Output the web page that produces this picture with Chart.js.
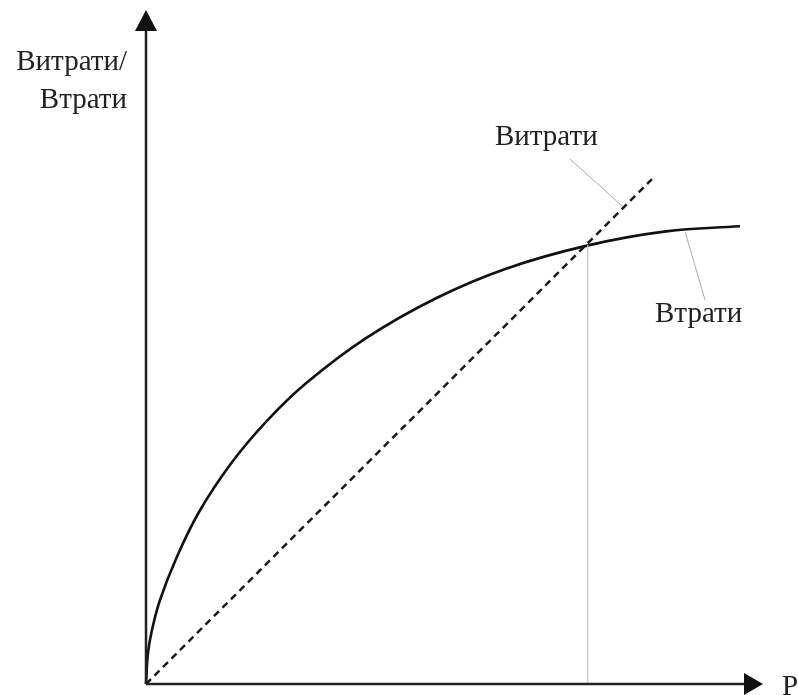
<!DOCTYPE html>
<html>
<head>
<meta charset="utf-8">
<script src="https://cdn.jsdelivr.net/npm/chart.js@4.4.1/dist/chart.umd.min.js"></script>
<style>
    html, body { margin: 0; padding: 0; background: #fff; }
    #wrap { width: 798px; height: 695px; position: relative; }
</style>
</head>
<body>
<div id="wrap"><canvas id="costChart"></canvas></div>
<script>
/* ===========================
Data
=========================== */

// Втрати (losses) curve
const lossX = [0, 0.032, 0.097, 0.227, 0.486, 0.859, 1.378, 1.945, 2.593, 3.566, 4.7, 5.835, 7.147, 8.428, 9.627];
const lossY = [0, 0.46, 0.801, 1.246, 1.855, 2.552, 3.272, 3.89, 4.461, 5.131, 5.723, 6.162, 6.504, 6.715, 6.792];

// Витрати (costs) straight line
const costX = [0, 8.2];
const costY = [0, 7.49];

// break-even point (vertical guide)
const markX = [7.16, 7.16];
const markY = [0, 6.52];

// label leader lines
const costLeadX = [6.87, 7.73];
const costLeadY = [7.79, 7.08];
const lossLeadX = [8.74, 9.06];
const lossLeadY = [6.7, 5.7];

const axisLabels = ["Витрати/", "Втрати", "P"];
const seriesLabels = ["Витрати", "Втрати"];

const toPoints = (xs, ys) => xs.map((x, i) => ({ x: x, y: ys[i] }));

/* ===========================
Axes + texts
=========================== */

const font = "29px 'Liberation Serif', 'Times New Roman', serif";

const decorPlugin = {
    id: "decor",
    afterDatasetsDraw(chart) {
        const ctx = chart.ctx;
        const xs = chart.scales.x;
        const ys = chart.scales.y;
        const x0 = xs.getPixelForValue(0);
        const y0 = ys.getPixelForValue(0);
        const xEnd = xs.getPixelForValue(10);
        const yEnd = ys.getPixelForValue(10);

        ctx.save();

        // axis lines
        ctx.strokeStyle = "#222";
        ctx.lineWidth = 2.5;
        ctx.beginPath();
        ctx.moveTo(x0, y0);
        ctx.lineTo(x0, yEnd + 18);
        ctx.moveTo(x0, y0);
        ctx.lineTo(xEnd - 16, y0);
        ctx.stroke();

        // arrow heads
        ctx.fillStyle = "#111";
        ctx.beginPath();
        ctx.moveTo(x0, yEnd);
        ctx.lineTo(x0 - 11, yEnd + 21);
        ctx.lineTo(x0 + 11, yEnd + 21);
        ctx.closePath();
        ctx.fill();
        ctx.beginPath();
        ctx.moveTo(xEnd, y0);
        ctx.lineTo(xEnd - 19, y0 - 11);
        ctx.lineTo(xEnd - 19, y0 + 11);
        ctx.closePath();
        ctx.fill();

        // texts
        ctx.fillStyle = "#222";
        ctx.font = font;
        ctx.textBaseline = "alphabetic";
        ctx.textAlign = "right";
        ctx.fillText(axisLabels[0], x0 - 19, 70);
        ctx.fillText(axisLabels[1], x0 - 19, 108);
        ctx.textAlign = "left";
        ctx.fillText(axisLabels[2], xEnd + 19, y0 + 11);

        ctx.fillText(seriesLabels[0], xs.getPixelForValue(5.656), ys.getPixelForValue(8.0));
        ctx.fillText(seriesLabels[1], xs.getPixelForValue(8.25), ys.getPixelForValue(5.37));

        ctx.restore();
    }
};

/* ===========================
Chart
=========================== */

const chartCtx = document.getElementById("costChart");

new Chart(chartCtx, {

    type: "scatter",

    data: {

        datasets: [

            {
                label: "guide",
                data: toPoints(markX, markY),
                showLine: true,
                borderColor: "#c4c4c4",
                borderWidth: 1.2,
                pointRadius: 0
            },

            {
                label: "lead1",
                data: toPoints(costLeadX, costLeadY),
                showLine: true,
                borderColor: "#aaa",
                borderWidth: 1,
                pointRadius: 0
            },

            {
                label: "lead2",
                data: toPoints(lossLeadX, lossLeadY),
                showLine: true,
                borderColor: "#aaa",
                borderWidth: 1,
                pointRadius: 0
            },

            {
                label: seriesLabels[0],
                data: toPoints(costX, costY),
                showLine: true,
                borderColor: "#1a1a1a",
                borderWidth: 2.5,
                borderDash: [7, 5],
                pointRadius: 0
            },

            {
                label: seriesLabels[1],
                data: toPoints(lossX, lossY),
                showLine: true,
                borderColor: "#111",
                borderWidth: 2.6,
                tension: 0.4,
                pointRadius: 0
            }

        ]

    },

    options: {

        responsive: true,

        maintainAspectRatio: false,

        animation: false,

        clip: false,

        layout: {
            padding: { left: 146, right: 35, top: 10, bottom: 11 }
        },

        plugins: {
            legend: { display: false },
            tooltip: { enabled: false }
        },

        scales: {
            x: { type: "linear", min: 0, max: 10, display: false },
            y: { type: "linear", min: 0, max: 10, display: false }
        }

    },

    plugins: [decorPlugin]

});
</script>
</body>
</html>
